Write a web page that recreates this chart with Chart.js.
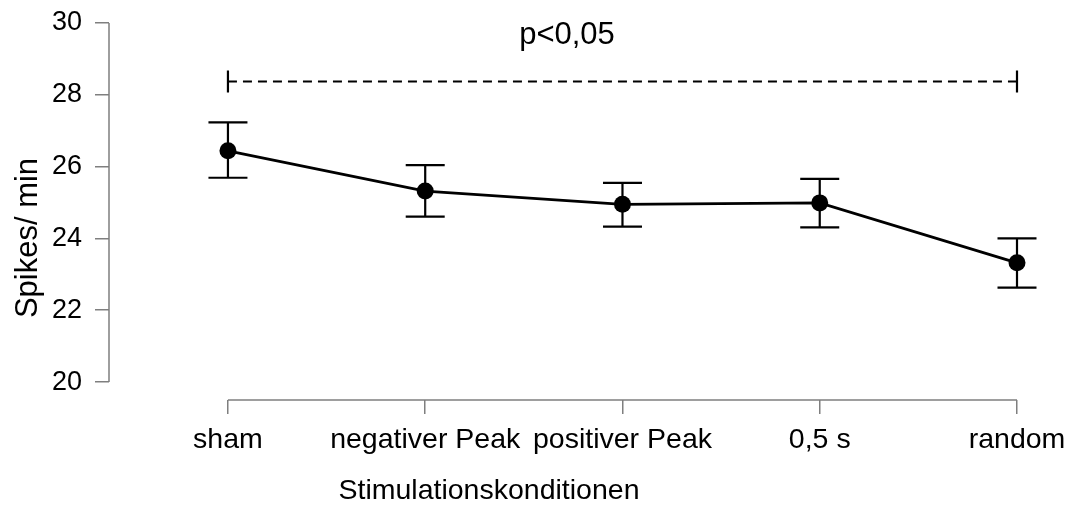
<!DOCTYPE html>
<html>
<head>
<meta charset="utf-8">
<script src="https://cdn.jsdelivr.net/npm/chart.js@4.4.0/dist/chart.umd.min.js"></script>
<style>
  html, body { margin: 0; padding: 0; background: #ffffff; }
  #wrap { width: 1070px; height: 507px; }
</style>
</head>
<body>
<div id="wrap"><canvas id="c" width="1070" height="507"></canvas></div>
<script>
// ---- data ----
const categories = ["sham", "negativer Peak", "positiver Peak", "0,5 s", "random"];
const means      = [26.44, 25.32, 24.95, 24.99, 23.32];
const upper      = [27.23, 26.04, 25.55, 25.66, 24.00];
const lower      = [25.69, 24.61, 24.33, 24.31, 22.63];
const yTicks     = [20, 22, 24, 26, 28, 30];
const sigLevel   = 28.37;
const sigText    = "p<0,05";
const yTitle     = "Spikes/ min";
const xTitle     = "Stimulationskonditionen";

const FONT = "'Liberation Sans', Arial, sans-serif";
const AXIS_COLOR = '#7f7f7f';

const overlay = {
  id: 'overlay',
  beforeDatasetsDraw(chart) {
    const ctx = chart.ctx;
    const xs = chart.scales.x, ys = chart.scales.y;
    ctx.save();
    // axis lines (R-style, spanning only tick range)
    ctx.strokeStyle = AXIS_COLOR;
    ctx.lineWidth = 1.5;
    ctx.beginPath();
    const ax = chart.chartArea.left;
    ctx.moveTo(ax, ys.getPixelForValue(yTicks[0]));
    ctx.lineTo(ax, ys.getPixelForValue(yTicks[yTicks.length - 1]));
    const ay = chart.chartArea.bottom;
    ctx.moveTo(xs.getPixelForValue(0), ay);
    ctx.lineTo(xs.getPixelForValue(categories.length - 1), ay);
    ctx.stroke();

    // error bars
    ctx.strokeStyle = '#000';
    ctx.lineWidth = 2.2;
    const cap = 19.5;
    categories.forEach((c, i) => {
      const px = xs.getPixelForValue(i);
      const pu = ys.getPixelForValue(upper[i]);
      const pl = ys.getPixelForValue(lower[i]);
      ctx.beginPath();
      ctx.moveTo(px, pu); ctx.lineTo(px, pl);
      ctx.moveTo(px - cap, pu); ctx.lineTo(px + cap, pu);
      ctx.moveTo(px - cap, pl); ctx.lineTo(px + cap, pl);
      ctx.stroke();
    });

    // significance bracket
    const sx0 = xs.getPixelForValue(0);
    const sx1 = xs.getPixelForValue(categories.length - 1);
    const sy = ys.getPixelForValue(sigLevel);
    ctx.lineWidth = 2.2;
    ctx.setLineDash([9, 6]);
    ctx.beginPath();
    ctx.moveTo(sx0, sy); ctx.lineTo(sx1, sy);
    ctx.stroke();
    ctx.setLineDash([]);
    ctx.beginPath();
    ctx.moveTo(sx0, sy - 11); ctx.lineTo(sx0, sy + 11);
    ctx.moveTo(sx1, sy - 11); ctx.lineTo(sx1, sy + 11);
    ctx.stroke();

    // p text
    ctx.fillStyle = '#000';
    ctx.font = '31px ' + FONT;
    ctx.textAlign = 'center';
    ctx.textBaseline = 'middle';
    ctx.fillText(sigText, 567, 35);

    // axis titles
    ctx.font = '28.5px ' + FONT;
    ctx.fillText(xTitle, 489, 491);
    ctx.save();
    ctx.translate(28, 238);
    ctx.rotate(-Math.PI / 2);
    ctx.font = '31px ' + FONT;
    ctx.fillText(yTitle, 0, 0);
    ctx.restore();

    ctx.restore();
  }
};

new Chart(document.getElementById('c'), {
  type: 'line',
  data: {
    datasets: [{
      data: categories.map((c, i) => ({ x: i, y: means[i] })),
      borderColor: '#000',
      borderWidth: 2.8,
      backgroundColor: '#000',
      pointRadius: 8.5,
      pointBackgroundColor: '#000',
      pointBorderWidth: 0,
      tension: 0,
      fill: false,
      clip: false
    }]
  },
  options: {
    responsive: false,
    devicePixelRatio: 1,
    animation: false,
    events: [],
    layout: { padding: { top: 23, right: 53, left: 0, bottom: 0 } },
    plugins: { legend: { display: false }, tooltip: { enabled: false } },
    scales: {
      x: {
        type: 'linear',
        min: -0.603,
        max: categories.length - 1,
        afterBuildTicks(scale) { scale.ticks = categories.map((c, i) => ({ value: i })); },
        afterFit(scale) {
          scale.height = 107;
          scale.paddingLeft = 0; scale.paddingRight = 0;
          scale.paddingTop = 0; scale.paddingBottom = 0;
        },
        border: { display: false },
        grid: { display: true, drawOnChartArea: false, drawTicks: true, tickLength: 14, color: AXIS_COLOR, lineWidth: 1.5 },
        ticks: {
          autoSkip: false, maxRotation: 0, minRotation: 0,
          padding: 9,
          color: '#000',
          font: { family: FONT, size: 28.5 },
          callback(v) { return categories[v]; }
        }
      },
      y: {
        type: 'linear',
        min: 19.5,
        max: 30,
        afterBuildTicks(scale) { scale.ticks = yTicks.map(v => ({ value: v })); },
        afterFit(scale) {
          scale.width = 109;
          scale.paddingLeft = 0; scale.paddingRight = 0;
          scale.paddingTop = 0; scale.paddingBottom = 0;
        },
        border: { display: false },
        grid: { display: true, drawOnChartArea: false, drawTicks: true, tickLength: 14, color: AXIS_COLOR, lineWidth: 1.5 },
        ticks: {
          padding: 13,
          color: '#000',
          font: { family: FONT, size: 27 }
        }
      }
    }
  },
  plugins: [overlay]
});
</script>
</body>
</html>
